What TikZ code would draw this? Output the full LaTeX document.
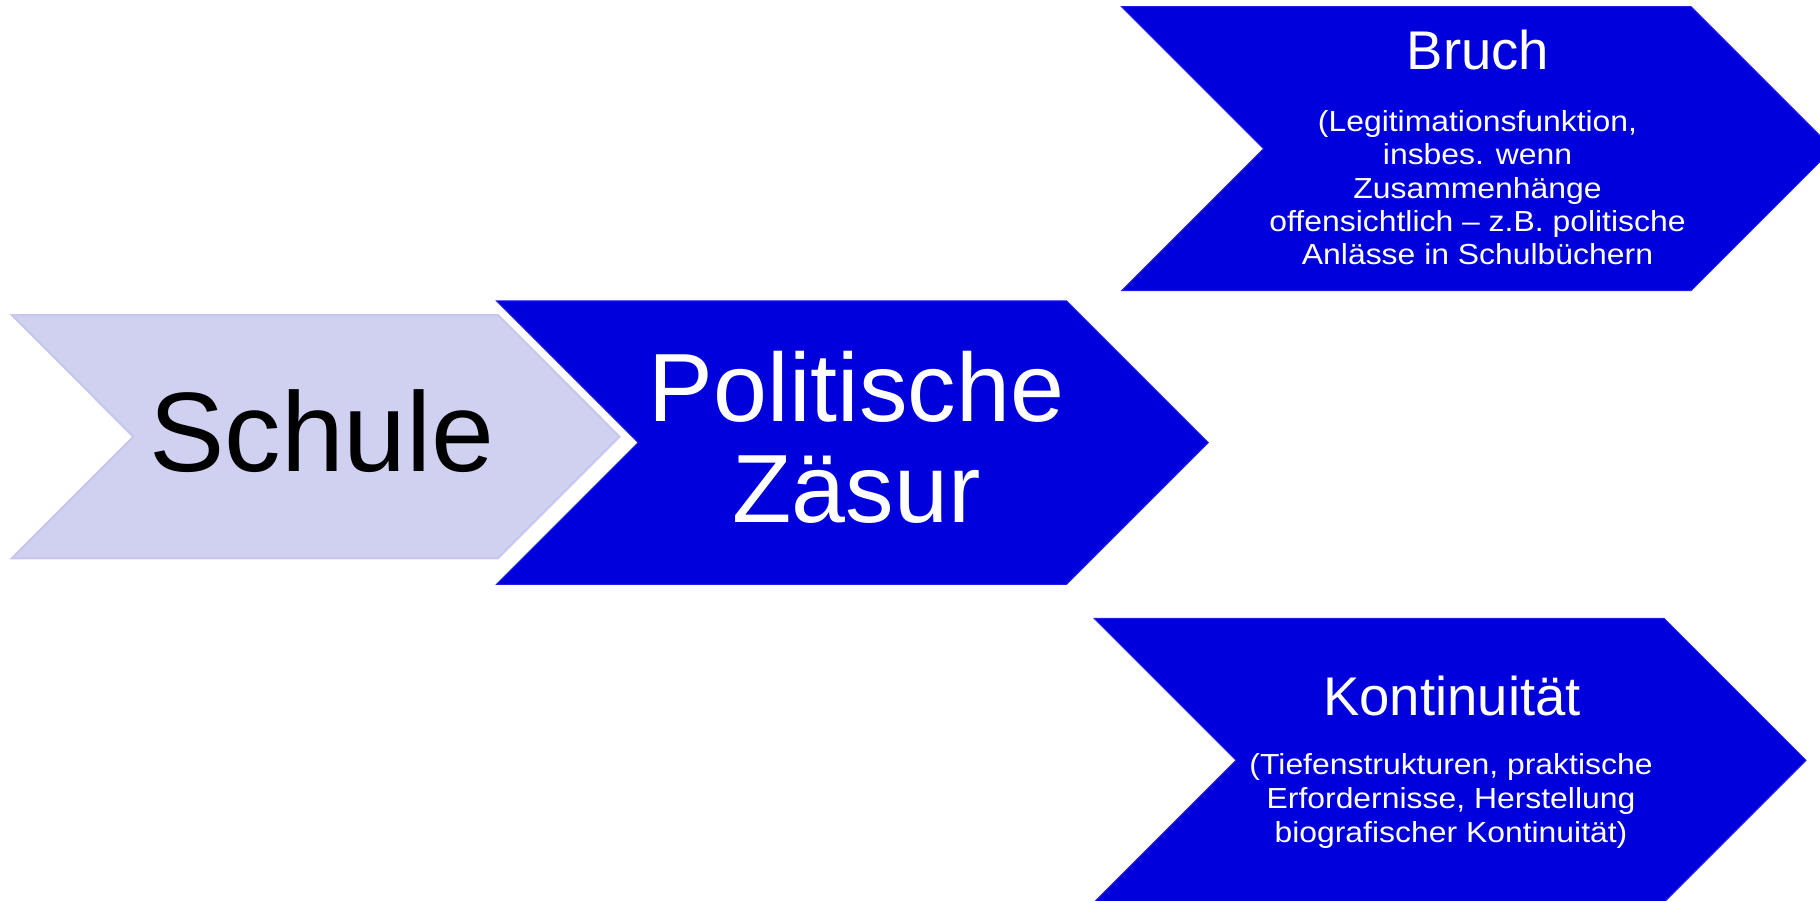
\documentclass[tikz,border=0pt]{standalone}
\usepackage{fontspec}
\setmainfont{Liberation Sans}
\newfontfamily\stretchfont[FakeStretch=1.1]{Liberation Sans}
\definecolor{chevblue}{RGB}{0,0,220}
\definecolor{chevedge}{RGB}{30,30,228}
\definecolor{lightfill}{RGB}{208,208,241}
\definecolor{lightedge}{RGB}{198,198,238}
\begin{document}
\begin{tikzpicture}[x=1pt,y=-1pt,
  chevron/.style={fill=chevblue,draw=chevedge,line width=1pt,line join=miter},
  lightchev/.style={fill=lightfill,draw=lightedge,line width=2pt,line join=miter},
  hugetxt/.style={font=\fontsize{113}{118}\selectfont,inner sep=0pt,anchor=base,text=black},
  bigtxt/.style={font=\fontsize{97}{101}\selectfont,inner sep=0pt,anchor=base,text=white},
  titletxt/.style={font=\fontsize{54.5}{60}\selectfont,inner sep=0pt,anchor=base,text=white},
  smalltxt/.style={font=\stretchfont\fontsize{29}{33}\selectfont,inner sep=0pt,anchor=base,text=white}]
\useasboundingbox (0,0) rectangle (1820,901);
\clip (0,0) rectangle (1820,901);

% chevrons
\path[lightchev] (11.8,315) -- (498,315) -- (619.5,436.7) -- (498,558.3) -- (11.8,558.3) -- (133.3,436.7) -- cycle;
\path[chevron] (496.5,301) -- (1066.6,301) -- (1208.2,442.6) -- (1066.6,584.3) -- (496.5,584.3) -- (638.1,442.6) -- cycle;
\path[chevron] (1121.6,6.7) -- (1691,6.7) -- (1833,148.7) -- (1691,290.7) -- (1121.6,290.7) -- (1263.6,148.7) -- cycle;
\path[chevron] (1094,618.3) -- (1664,618.3) -- (1806,760.3) -- (1664,902.3) -- (1094,902.3) -- (1236,760.3) -- cycle;

% Schule
\node[hugetxt] (schule) at (322,471.7) {Schule};

% Politische Zaesur
\node[bigtxt] (pol1) at (856.5,421.7) {Politische};
\node[bigtxt] (pol2) at (856.5,522.7) {Zäsur};

% Bruch
\node[titletxt] (bruch) at (1478,70) {Bruch};
\node[smalltxt] (bruch1) at (1477.5,131.7) {(Legitimationsfunktion,};
\node[smalltxt] (bruch2) at (1477.5,165) {insbes. wenn};
\node[smalltxt] (bruch3) at (1477.5,198.3) {Zusammenhänge};
\node[smalltxt] (bruch4) at (1477.5,231.7) {offensichtlich – z.B. politische};
\node[smalltxt] (bruch5) at (1477.5,265) {Anlässe in Schulbüchern};

% Kontinuitaet
\node[titletxt] (kont) at (1452,715) {Kontinuität};
\node[smalltxt] (kont1) at (1451,774) {(Tiefenstrukturen, praktische};
\node[smalltxt] (kont2) at (1451,808) {Erfordernisse, Herstellung};
\node[smalltxt] (kont3) at (1451,842) {biografischer Kontinuität)};
\end{tikzpicture}
\end{document}
